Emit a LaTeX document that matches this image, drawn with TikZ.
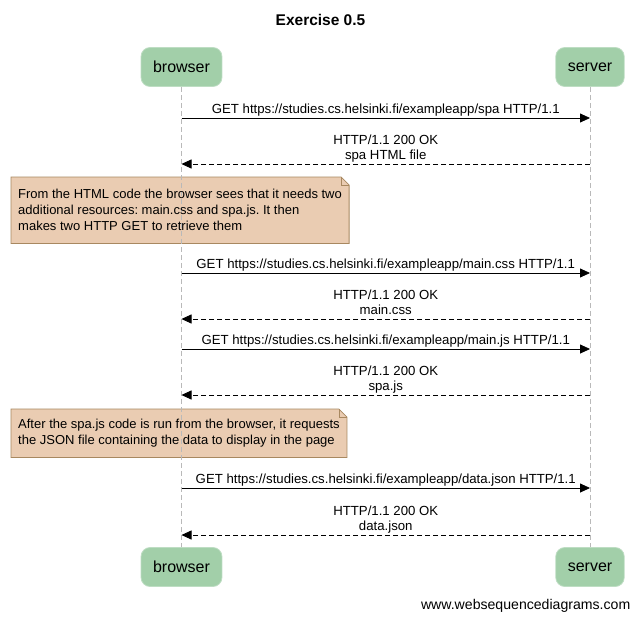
\documentclass[tikz,border=0pt]{standalone}
\usepackage{fontspec}
\setmainfont{Liberation Sans}
\frenchspacing
\usetikzlibrary{arrows.meta,backgrounds}
\definecolor{actorgreen}{RGB}{162,207,169}
\definecolor{notefill}{RGB}{234,204,178}
\definecolor{noteline}{RGB}{168,136,96}
\definecolor{lifegray}{RGB}{185,185,185}
\begin{document}
\begin{tikzpicture}[x=1pt, y=-1pt,
  actor/.style={fill=actorgreen, draw=actorgreen!70!white, line width=0.8pt, rounded corners=9pt, inner xsep=12pt, minimum height=39pt, font=\fontsize{16}{19}\selectfont},
  lifeline/.style={draw=lifegray, line width=0.8pt, dash pattern=on 5pt off 3pt},
  msg/.style={-{Triangle[length=10pt,width=9pt]}, line width=0.8pt},
  reply/.style={msg, dash pattern=on 5pt off 3pt},
  lbl/.style={above, inner sep=1.5pt, text depth=2.5pt, align=center, font=\fontsize{13.2}{15}\selectfont},
  note/.style={anchor=north west, inner xsep=7pt, inner ysep=7pt, align=left, font=\fontsize{13}{16}\selectfont},
  notebox/.style={fill=notefill, draw=noteline, line width=0.8pt}]
\useasboundingbox (0,0) rectangle (639,621);

\node (title) [font=\bfseries\fontsize{15.5}{18}\selectfont] at (320.5,20) {Exercise 0.5};

\node (btop) [actor] at (181.5,67) {browser};
\node (stop) [actor] at (590,67) {server};
\node (bbot) [actor] at (181.5,567) {browser};
\node (sbot) [actor] at (590,567) {server};

\draw [lifeline] (btop) -- (bbot);
\draw [lifeline] (stop) -- (sbot);

% message points on the lifelines
\coordinate (b1) at (181.5,118); \coordinate (s1) at (590,118);
\coordinate (b2) at (181.5,164); \coordinate (s2) at (590,164);
\coordinate (b3) at (181.5,273); \coordinate (s3) at (590,273);
\coordinate (b4) at (181.5,319); \coordinate (s4) at (590,319);
\coordinate (b5) at (181.5,349); \coordinate (s5) at (590,349);
\coordinate (b6) at (181.5,395); \coordinate (s6) at (590,395);
\coordinate (b7) at (181.5,488); \coordinate (s7) at (590,488);
\coordinate (b8) at (181.5,535); \coordinate (s8) at (590,535);

\draw [msg] (b1) -- node [lbl] {GET https://studies.cs.helsinki.fi/exampleapp/spa HTTP/1.1} (s1);
\draw [reply] (s2) -- node [lbl] {HTTP/1.1 200 OK\\spa HTML file} (b2);

\node (note1) [note, minimum height=66pt] at (11,177) {From the HTML code the browser sees that it needs two\\additional resources: main.css and spa.js. It then\\makes two HTTP GET to retrieve them};

\draw [msg] (b3) -- node [lbl] {GET https://studies.cs.helsinki.fi/exampleapp/main.css HTTP/1.1} (s3);
\draw [reply] (s4) -- node [lbl] {HTTP/1.1 200 OK\\main.css} (b4);
\draw [msg] (b5) -- node [lbl] {GET https://studies.cs.helsinki.fi/exampleapp/main.js HTTP/1.1} (s5);
\draw [reply] (s6) -- node [lbl] {HTTP/1.1 200 OK\\spa.js} (b6);

\node (note2) [note, minimum height=48pt] at (11,409) {After the spa.js code is run from the browser, it requests\\the JSON file containing the data to display in the page};

\draw [msg] (b7) -- node [lbl] {GET https://studies.cs.helsinki.fi/exampleapp/data.json HTTP/1.1} (s7);
\draw [reply] (s8) -- node [lbl] {HTTP/1.1 200 OK\\data.json} (b8);

\begin{pgfonlayer}{background}
\draw [notebox] (note1.north west) -- ([xshift=-8pt]note1.north east) -- ([yshift=-8pt]note1.north east) -- (note1.south east) -- (note1.south west) -- cycle;
\draw [notebox, fill=none] ([xshift=-8pt]note1.north east) |- ([yshift=-8pt]note1.north east);
\draw [notebox] (note2.north west) -- ([xshift=-8pt]note2.north east) -- ([yshift=-8pt]note2.north east) -- (note2.south east) -- (note2.south west) -- cycle;
\draw [notebox, fill=none] ([xshift=-8pt]note2.north east) |- ([yshift=-8pt]note2.north east);
\end{pgfonlayer}

\node (credit) [anchor=east, inner sep=0pt, font=\fontsize{14.1}{17}\selectfont] at (630.5,606) {www.websequencediagrams.com};
\end{tikzpicture}
\end{document}
